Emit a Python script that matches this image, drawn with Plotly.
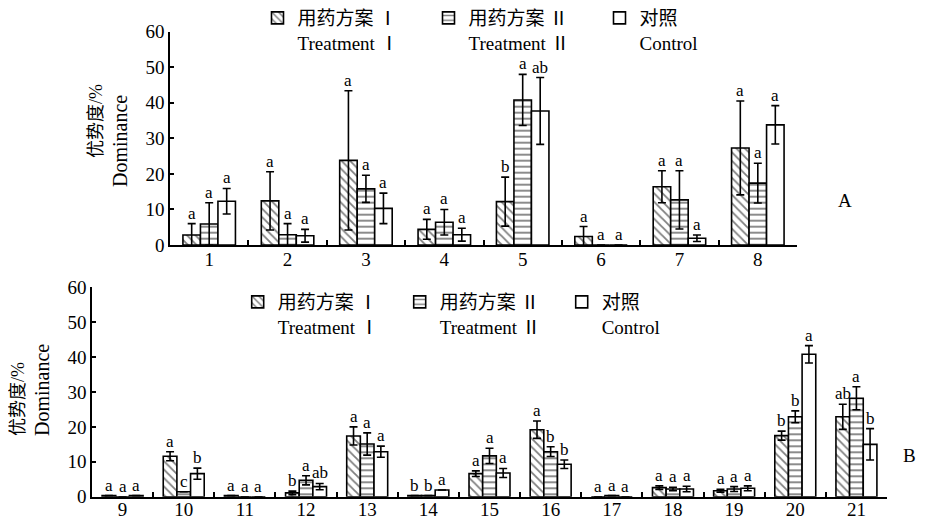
import plotly.graph_objects as go

# ---------------- data: panel A ----------------
cats_A = ["1", "2", "3", "4", "5", "6", "7", "8"]
t1_A = [2.8, 12.4, 23.8, 4.4, 12.2, 2.4, 16.4, 27.3]
t1_err_A = [3.2, 8.2, 19.6, 2.8, 6.9, 2.8, 4.5, 13.2]
t2_A = [5.9, 2.9, 15.8, 6.4, 40.8, 0, 12.7, 17.4]
t2_err_A = [6.0, 3.1, 3.8, 3.6, 7.2, None, 8.2, 5.6]
ctrl_A = [12.3, 2.6, 10.3, 2.9, 37.7, 0, 1.9, 33.8]
ctrl_err_A = [3.6, 1.8, 4.3, 1.8, 9.4, None, 0.9, 5.4]
lt1_A = ["a", "a", "a", "a", "b", "a", "a", "a"]
lt2_A = ["a", "a", "a", "a", "a", "a", "a", "a"]
lctrl_A = ["a", "a", "a", "a", "ab", "a", "a", "a"]

# ---------------- data: panel B ----------------
cats_B = ["9", "10", "11", "12", "13", "14", "15", "16", "17", "18", "19", "20", "21"]
t1_B = [0.3, 11.6, 0.3, 1.1, 17.4, 0.3, 6.6, 19.2, 0.0, 2.6, 1.7, 17.5, 22.9]
t1_err_B = [None, 1.3, None, 0.5, 2.6, None, 0.8, 2.5, None, 0.5, 0.4, 1.3, 3.6]
t2_B = [0.0, 1.4, 0.0, 4.7, 15.1, 0.3, 11.7, 12.9, 0.3, 2.2, 2.2, 22.9, 28.2]
t2_err_B = [None, None, None, 1.3, 3.2, None, 2.2, 1.4, None, 0.5, 0.7, 1.7, 3.3]
ctrl_B = [0.3, 6.6, 0.0, 2.9, 12.9, 1.9, 6.8, 9.3, 0.0, 2.2, 2.4, 40.8, 15.0]
ctrl_err_B = [None, 1.6, None, 0.9, 1.6, None, 1.3, 1.2, None, 0.8, 0.7, 2.5, 4.5]
lt1_B = ["a", "a", "a", "b", "a", "b", "a", "a", "a", "a", "a", "b", "ab"]
lt2_B = ["a", "c", "a", "a", "a", "b", "a", "b", "a", "a", "a", "b", "a"]
lctrl_B = ["a", "b", "a", "ab", "a", "a", "a", "b", "a", "a", "a", "a", "b"]

names = ["用药方案 Ⅰ<br>Treatment Ⅰ", "用药方案 Ⅱ<br>Treatment Ⅱ", "对照<br>Control"]
y_ticks = [0, 10, 20, 30, 40, 50, 60]

SERIF = "Times New Roman, Liberation Serif, Noto Sans CJK SC, serif"
W, H = 927, 522
OFF = 8  # page body margin of the html page


def fx(px):
    return (px - OFF) / W


def fy(py):
    return 1 - (py - OFF) / H


patterns = [
    dict(shape="\\", size=6, solidity=0.3, fgcolor="black", bgcolor="white"),
    dict(shape="-", size=6, solidity=0.3, fgcolor="black", bgcolor="white"),
    dict(shape="", fgcolor="black", bgcolor="white"),
]

fig = go.Figure()


def add_panel(cats, series, errs, letters, xa, ya, legend, bar_px):
    for i, (vals, err, lets) in enumerate(zip(series, errs, letters)):
        fig.add_trace(go.Bar(
            x=cats, y=vals, name=names[i], xaxis=xa, yaxis=ya, legend=legend,
            marker=dict(color="white", line=dict(color="black", width=1.6),
                        pattern=patterns[i]),
            error_y=dict(type="data", array=err, symmetric=True,
                         color="black", thickness=1.6, width=4),
            showlegend=True,
        ))
        for k, (v, e, t) in enumerate(zip(vals, err, lets)):
            top = v + (e if e is not None else 0)
            fig.add_annotation(
                x=k, y=top, xref=xa, yref=ya, text=t, showarrow=False,
                xshift=(i - 1) * bar_px, yshift=-1, yanchor="bottom",
                font=dict(family=SERIF, size=17, color="black"),
            )


add_panel(cats_A, [t1_A, t2_A, ctrl_A], [t1_err_A, t2_err_A, ctrl_err_A],
          [lt1_A, lt2_A, lctrl_A], "x", "y", "legend", 17.5)
add_panel(cats_B, [t1_B, t2_B, ctrl_B], [t1_err_B, t2_err_B, ctrl_err_B],
          [lt1_B, lt2_B, lctrl_B], "x2", "y2", "legend2", 13.6)

axis_common = dict(showline=True, linecolor="black", linewidth=1.6, showgrid=False,
                   zeroline=False, tickcolor="black", tickwidth=1.6, automargin=False,
                   tickfont=dict(family=SERIF, size=19, color="black"))

fig.update_layout(
    width=W, height=H,
    margin=dict(l=0, r=0, t=0, b=0, autoexpand=False),
    paper_bgcolor="white", plot_bgcolor="white",
    barmode="group", bargap=0.33, bargroupgap=0,
    font=dict(family=SERIF, color="black"),
    xaxis=dict(domain=[fx(170), fx(797)], anchor="y", type="category",
               range=[-0.5, len(cats_A) - 0.5], ticklabelstandoff=-4,
               ticks="inside", ticklen=5, tickson="boundaries", **axis_common),
    yaxis=dict(domain=[fy(245), fy(31.7)], anchor="x", range=[0, 60],
               tickvals=y_ticks, ticks="inside", ticklen=4, **axis_common),
    xaxis2=dict(domain=[fx(92), fx(887)], anchor="y2", type="category",
                range=[-0.5, len(cats_B) - 0.5], ticklabelstandoff=-5,
                ticks="inside", ticklen=5, tickson="boundaries", **axis_common),
    yaxis2=dict(domain=[fy(496.7), fy(287.3)], anchor="x2", range=[0, 60],
                tickvals=y_ticks, ticks="inside", ticklen=4, **axis_common),
    legend=dict(orientation="h", x=249.5 / W, y=1 + 9 / H, xanchor="left", yanchor="top",
                valign="top", entrywidth=126, bgcolor="rgba(0,0,0,0)",
                font=dict(family=SERIF, size=19, color="black")),
    legend2=dict(orientation="h", x=229.7 / W, y=1 - 275 / H, xanchor="left", yanchor="top",
                 valign="top", entrywidth=117, bgcolor="rgba(0,0,0,0)",
                 font=dict(family=SERIF, size=19, color="black")),
)

# axis titles and panel labels
for (xc, yc, txt, sz) in [(96, 121, "优势度/%", 18), (120, 141, "Dominance", 20),
                          (18, 399, "优势度/%", 18), (42, 390, "Dominance", 20)]:
    fig.add_annotation(x=fx(xc), y=fy(yc), xref="paper", yref="paper", text=txt,
                       textangle=-90, showarrow=False, xanchor="center", yanchor="middle",
                       font=dict(family=SERIF, size=sz, color="black"))
for (xc, yc, txt) in [(845, 200, "A"), (909, 455, "B")]:
    fig.add_annotation(x=fx(xc), y=fy(yc), xref="paper", yref="paper", text=txt,
                       showarrow=False, xanchor="center", yanchor="middle",
                       font=dict(family=SERIF, size=19, color="black"))

fig.write_html("out.html", config={"displayModeBar": False})
